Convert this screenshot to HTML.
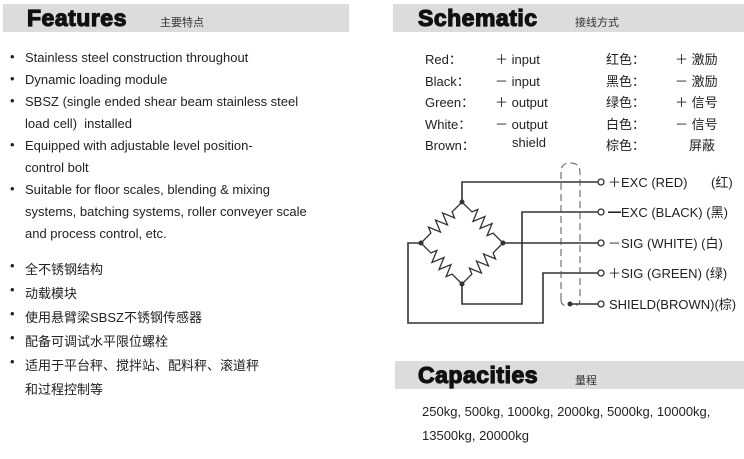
<!DOCTYPE html>
<html><head><meta charset="utf-8"><style>
body{margin:0;width:744px;height:459px;background:#fff;overflow:hidden;position:relative;font-family:"Liberation Sans","Noto Sans CJK SC",sans-serif;color:#222}
.bar{position:absolute;background:#dcdcdc;height:28px}
.h{position:absolute;font-weight:bold;font-size:23px;color:#111;font-family:"Liberation Sans",sans-serif;-webkit-text-stroke:1.2px #111;letter-spacing:0.5px}
.sub{position:absolute;font-size:11px;color:#333}
.t{position:absolute;font-size:13px;color:#222;white-space:nowrap}
.b{position:absolute;font-size:13px}
</style></head><body>
<div class="bar" style="left:3px;top:4px;width:346px"></div>
<div class="h" style="left:27px;top:5px">Features</div>
<div class="sub" style="left:160px;top:14px">主要特点</div>
<div class="bar" style="left:393px;top:4px;width:351px"></div>
<div class="h" style="left:418px;top:5px">Schematic</div>
<div class="sub" style="left:575px;top:14px">接线方式</div>
<div class="bar" style="left:395px;top:361px;width:349px"></div>
<div class="h" style="left:418px;top:362px">Capacities</div>
<div class="sub" style="left:575px;top:372px">量程</div>

<div class="b" style="left:10px;top:49px">•</div><div class="t" style="left:25px;top:50px">Stainless steel construction throughout</div>
<div class="b" style="left:10px;top:71px">•</div><div class="t" style="left:25px;top:72px">Dynamic loading module</div>
<div class="b" style="left:10px;top:93px">•</div><div class="t" style="left:25px;top:94px">SBSZ (single ended shear beam stainless steel</div>
<div class="t" style="left:25px;top:116px">load cell)&nbsp; installed</div>
<div class="b" style="left:10px;top:137px">•</div><div class="t" style="left:25px;top:138px">Equipped with adjustable level position-</div>
<div class="t" style="left:25px;top:160px">control bolt</div>
<div class="b" style="left:10px;top:181px">•</div><div class="t" style="left:25px;top:182px">Suitable for floor scales, blending &amp; mixing</div>
<div class="t" style="left:25px;top:204px">systems, batching systems, roller conveyer scale</div>
<div class="t" style="left:25px;top:226px">and process control, etc.</div>
<div class="b" style="left:10px;top:258px">•</div><div class="t" style="left:25px;top:259px">全不锈钢结构</div>
<div class="b" style="left:10px;top:282px">•</div><div class="t" style="left:25px;top:283px">动载模块</div>
<div class="b" style="left:10px;top:306px">•</div><div class="t" style="left:25px;top:307px">使用悬臂梁SBSZ不锈钢传感器</div>
<div class="b" style="left:10px;top:330px">•</div><div class="t" style="left:25px;top:331px">配备可调试水平限位螺栓</div>
<div class="b" style="left:10px;top:354px">•</div><div class="t" style="left:25px;top:355px">适用于平台秤、搅拌站、配料秤、滚道秤</div>
<div class="t" style="left:25px;top:379px">和过程控制等</div>

<div class="t" style="left:425px;top:49px">Red：</div><div class="t" style="left:495px;top:49px">＋ input</div><div class="t" style="left:606px;top:49px">红色：</div><div class="t" style="left:675px;top:49px">＋ 激励</div>
<div class="t" style="left:425px;top:71px">Black：</div><div class="t" style="left:495px;top:71px">－ input</div><div class="t" style="left:606px;top:71px">黑色：</div><div class="t" style="left:675px;top:71px">－ 激励</div>
<div class="t" style="left:425px;top:92px">Green：</div><div class="t" style="left:495px;top:92px">＋ output</div><div class="t" style="left:606px;top:92px">绿色：</div><div class="t" style="left:675px;top:92px">＋ 信号</div>
<div class="t" style="left:425px;top:114px">White：</div><div class="t" style="left:495px;top:114px">－ output</div><div class="t" style="left:606px;top:114px">白色：</div><div class="t" style="left:675px;top:114px">－ 信号</div>
<div class="t" style="left:425px;top:135px">Brown：</div><div class="t" style="left:512px;top:135px">shield</div><div class="t" style="left:606px;top:135px">棕色：</div><div class="t" style="left:689px;top:135px">屏蔽</div>

<svg style="position:absolute;left:0;top:0" width="744" height="459">
<defs>
<path id="r" fill="none" stroke="#333" stroke-width="1.3" d="M0,0 H14 L16.5,-6 L21.5,6 L26.5,-6 L31.5,6 L36.5,-6 L41.5,6 L44,0 H58"/>
</defs>
<g fill="none" stroke="#333" stroke-width="1.6">
<polyline points="462,202 462,182 598,182"/>
<polyline points="462,284 462,304 522,304 522,212 598,212"/>
<polyline points="503,243 598,243"/>
<polyline points="421,243 408,243 408,323 543,323 543,273 598,273"/>
<polyline points="570,304 598,304"/>
<path stroke-width="1" stroke="#555" stroke-dasharray="7,4" d="M561,300 V172 Q561,163 570,163 Q580,163 580,172 V300 Q580,306 572,306 M561,300 Q561,306 568,306"/>
</g>
<use href="#r" transform="translate(462,202) rotate(135)"/>
<use href="#r" transform="translate(462,202) rotate(45)"/>
<use href="#r" transform="translate(421,243) rotate(45)"/>
<use href="#r" transform="translate(503,243) rotate(135)"/>
<g fill="#333"><circle cx="462" cy="202" r="2.5"/><circle cx="462" cy="284" r="2.5"/><circle cx="421" cy="243" r="2.5"/><circle cx="503" cy="243" r="2.5"/><circle cx="570" cy="304" r="2.5"/></g>
<g fill="#fff" stroke="#333" stroke-width="1.3"><circle cx="601" cy="182" r="3"/><circle cx="601" cy="212" r="3"/><circle cx="601" cy="243" r="3"/><circle cx="601" cy="273" r="3"/><circle cx="601" cy="304" r="3"/></g>
<g font-family="Liberation Sans,Noto Sans CJK SC,sans-serif" font-size="13" fill="#222">
<text x="608" y="187">＋EXC (RED)</text><text x="711" y="187">(红)</text>
<text x="608" y="217">━EXC (BLACK) (黑)</text>
<text x="608" y="248">－SIG (WHITE) (白)</text>
<text x="608" y="278">＋SIG (GREEN) (绿)</text>
<text x="609" y="309">SHIELD(BROWN)(棕)</text>
</g>
</svg>
<div class="t" style="left:422px;top:404px">250kg, 500kg, 1000kg, 2000kg, 5000kg, 10000kg,</div>
<div class="t" style="left:422px;top:428px">13500kg, 20000kg</div>
</body></html>
